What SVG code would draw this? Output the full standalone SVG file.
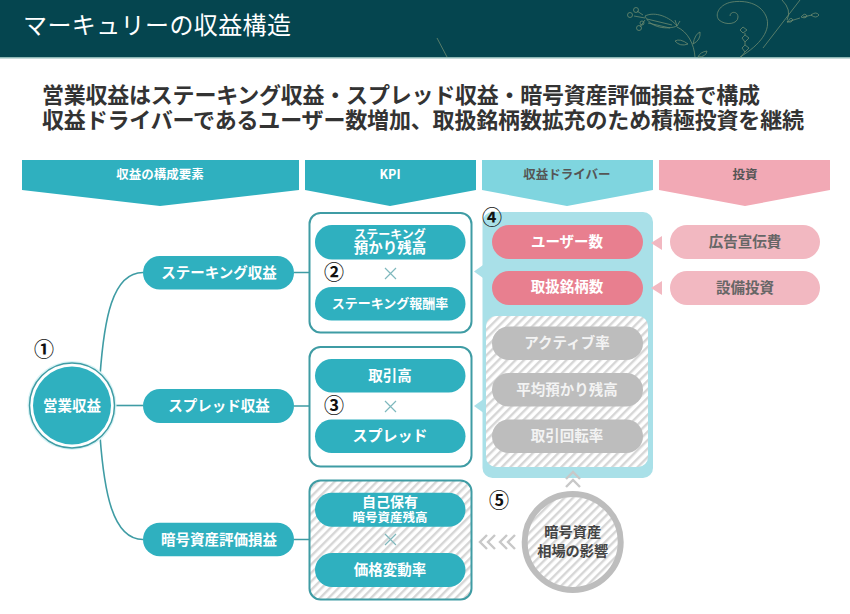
<svg xmlns="http://www.w3.org/2000/svg" width="850" height="614" viewBox="0 0 850 614">
<style>
text{font-family:"Noto Sans CJK JP","Noto Sans",sans-serif;text-anchor:middle;font-weight:700}
.w{fill:#fff;font-size:14.500px}
.g{fill:#f3f3f3;font-size:14.500px}
.h{font-size:12.500px}
.teal{fill:#2fb0bf}
.pink{fill:#e87f8f}
.lp{fill:#f2b8c1}
.gray{fill:#bdbdbd}
.box{fill:#fff;stroke:#3f9ca4;stroke-width:2}
.hbox{fill:url(#hatch);stroke:#3f9ca4;stroke-width:2}
.line{fill:none;stroke:#3f9ca4;stroke-width:1.6}
.x{stroke:#7fb8bd;stroke-width:1.2;fill:none}
.chev{fill:none;stroke:#c8c8c8;stroke-width:2.400}
.num{fill:#111;font-size:20px;font-weight:700}
.deco{fill:none;stroke:#6c8a70;stroke-width:.8}
</style>
<defs>
<pattern id="hatch" width="6" height="6" patternUnits="userSpaceOnUse" patternTransform="rotate(45)">
<rect width="6" height="6" fill="#fff"/><rect width="2.400" height="6" fill="#d6d6d6"/>
</pattern>
</defs>
<rect width="850" height="614" fill="#fff"/>
<g id="header">
<rect width="850" height="57" fill="#05454f"/>
<rect y="57" width="850" height="1.500" fill="#8fb8b6"/>
<g class="deco">
<path d="M437 38L447 57"/>
<path d="M645 16C655 11 670 17 677 26C668 30 650 28 645 16Z"/>
<path d="M647 19L672 25M648 23L670 28M677 26L675 20M677 26L680 21"/>
<path d="M645 18L634 16M645 20L640 27M643 15L637 11"/>
<circle cx="630" cy="15" r="2.500"/><circle cx="636" cy="10" r="2.500"/><circle cx="639" cy="28" r="2.500"/><circle cx="642" cy="23" r="2"/>
<path d="M677 27C688 32 694 44 695 57"/>
<path d="M693 44Q695 34 700 32Q701 40 693 44ZM688 44Q680 38 675 41Q680 47 688 44ZM698 57Q700 52 707 51Q706 57 698 57Z"/>
<path d="M740 57C760 45 772 30 766 16C760 3 745 0 732 2C720 4 714 14 719 20C726 26 738 24 738 17C738 11 730 11 730 16"/>
<path d="M763 48L800 0M782 0Q792 10 787 20"/>
<path d="M787 22L800 18M803 17L812 15"/>
<path d="M787 22Q791 16 793 20Q792 23 787 22ZM801 17Q805 12 807 16Q806 19 801 17ZM811 15Q816 11 819 15Q816 19 811 15Z"/>
<path d="M743 27L747 30L743 33L740 30ZM745 35L749 38L745 42L742 38ZM745 45L749 48L745 52L742 48Z"/>
<path d="M745 33V35M745 42V45M745 52L741 57"/>
</g>
<text x="157" y="34" fill="#fff" style="font-size:24px;font-weight:400" textLength="268">マーキュリーの収益構造</text>
</g>
<g id="headline">
<text x="401" y="103" fill="#333" style="font-size:22px" textLength="718">営業収益はステーキング収益・スプレッド収益・暗号資産評価損益で構成</text>
<text x="423" y="128" fill="#333" style="font-size:22px" textLength="762">収益ドライバーであるユーザー数増加、取扱銘柄数拡充のため積極投資を継続</text>
</g>
<g id="col-revenue"><polygon class="teal" points="22,160 299,160 299,190 160,206 22,190"/><text class="h" x="160" y="179" fill="#fff">収益の構成要素</text></g>
<g id="col-kpi"><polygon class="teal" points="305,160 476,160 476,190 390,206 305,190"/><text class="h" x="390" y="179" fill="#fff">KPI</text></g>
<g id="col-driver"><polygon fill="#7fd5df" points="482,160 653,160 653,190 567,206 482,190"/><text class="h" x="567" y="179" fill="#555">収益ドライバー</text></g>
<g id="col-invest"><polygon fill="#f2a9b5" points="659,160 830,160 830,190 745,206 659,190"/><text class="h" x="745" y="179" fill="#555">投資</text></g>
<g id="connectors">
<path class="line" d="M143 272.500C112 272.500 104 320 100 376"/>
<path class="line" d="M115 405.500H143"/>
<path class="line" d="M143 539.500C112 539.500 104 490 100 436"/>
<path class="line" d="M294 272.500H309M294 406H309M294 539.500H309"/>
<circle cx="100" cy="376" r="2" fill="#3f9ca4"/><circle cx="114" cy="405.500" r="2" fill="#3f9ca4"/><circle cx="100" cy="436" r="2" fill="#3f9ca4"/>
</g>
<g id="op-revenue">
<circle cx="72" cy="405.500" r="44.500" fill="#d8f3f6"/>
<circle cx="72" cy="405.500" r="42.500" fill="#fff" stroke="#3f9ca4" stroke-width="1.500"/>
<circle cx="72" cy="405.500" r="39" class="teal"/>
<text class="w" x="72" y="411">営業収益</text>
<text class="num" x="44" y="357">①</text>
</g>
<g id="rev-staking"><rect class="teal" x="143" y="256" width="151" height="33.500" rx="16.700"/><text class="w" x="219" y="278">ステーキング収益</text></g>
<g id="rev-spread"><rect class="teal" x="143" y="389" width="151" height="34" rx="17"/><text class="w" x="219" y="411">スプレッド収益</text></g>
<g id="rev-crypto"><rect class="teal" x="143" y="522.700" width="151" height="33.500" rx="16.700"/><text class="w" x="219" y="545">暗号資産評価損益</text></g>
<g id="kpi-box-1">
<rect class="box" x="309.500" y="213" width="162" height="119.500" rx="11"/>
<rect class="teal" x="315" y="225" width="150.500" height="34.500" rx="17"/>
<text class="w" x="390" y="238.500" style="font-size:12px">ステーキング</text><text class="w" x="390" y="253">預かり残高</text>
<path class="x" d="M385 268L396 279M396 268L385 279"/>
<rect class="teal" x="315" y="287" width="150.500" height="33.500" rx="16.700"/>
<text class="w" x="390" y="308" style="font-size:13px">ステーキング報酬率</text>
<text class="num" x="334" y="280">②</text>
</g>
<g id="kpi-box-2">
<rect class="box" x="309.500" y="347" width="162" height="119.500" rx="11"/>
<rect class="teal" x="315" y="359" width="150.500" height="33.500" rx="16.700"/>
<text class="w" x="390" y="381">取引高</text>
<path class="x" d="M385 401L396 412M396 401L385 412"/>
<rect class="teal" x="315" y="419.500" width="150.500" height="33.500" rx="16.700"/>
<text class="w" x="390" y="441" style="font-size:15px">スプレッド</text>
<text class="num" x="334" y="413">③</text>
</g>
<g id="kpi-box-3">
<rect class="hbox" x="309.500" y="480.500" width="162" height="119" rx="11"/>
<rect class="teal" x="315" y="492.700" width="150.500" height="34" rx="17"/>
<text class="w" x="390" y="507" style="font-size:14px">自己保有</text><text class="w" x="390" y="521.500" style="font-size:12.500px">暗号資産残高</text>
<path class="x" d="M385 534L396 545M396 534L385 545"/>
<rect class="teal" x="315" y="553" width="150.500" height="34" rx="17"/>
<text class="w" x="390" y="575">価格変動率</text>
</g>
<g id="driver-panel">
<rect x="482.500" y="212" width="170.500" height="266" rx="10" fill="#a9e0e8"/>
<polygon points="474,271.500 483,265 483,278" fill="#a9e0e8"/>
<polygon points="474,406 483,399.500 483,412.500" fill="#a9e0e8"/>
<text class="num" x="492" y="225">④</text>
</g>
<g id="driver-users"><rect class="pink" x="492" y="225" width="151" height="34" rx="17"/><text class="w" x="567" y="247">ユーザー数</text></g>
<g id="driver-brands"><rect class="pink" x="492" y="271" width="151" height="34" rx="17"/><text class="w" x="567" y="292">取扱銘柄数</text></g>
<g id="driver-hatched">
<rect x="486" y="316" width="162" height="151" rx="10" fill="url(#hatch)"/>
<rect class="gray" x="492" y="326.500" width="151" height="33.500" rx="16.700"/><text class="g" x="567" y="348">アクティブ率</text>
<rect class="gray" x="492" y="373" width="151" height="33.500" rx="16.700"/><text class="g" x="567" y="395">平均預かり残高</text>
<rect class="gray" x="492" y="419.500" width="151" height="33.500" rx="16.700"/><text class="g" x="567" y="441">取引回転率</text>
</g>
<g id="invest-ad"><polygon class="lp" points="651,243 662,236 662,250"/><rect class="lp" x="670" y="225" width="150" height="34" rx="17"/><text x="745" y="247" fill="#666" style="font-size:14.500px">広告宣伝費</text></g>
<g id="invest-equip"><polygon class="lp" points="651,288 662,281 662,295"/><rect class="lp" x="670" y="271" width="150" height="34" rx="17"/><text x="745" y="293" fill="#666" style="font-size:14.500px">設備投資</text></g>
<g id="market">
<circle cx="572.700" cy="542" r="48" fill="url(#hatch)" stroke="#bdbdbd" stroke-width="6"/>
<text x="572.700" y="537" fill="#444" style="font-size:14.200px">暗号資産</text>
<text x="572.700" y="556" fill="#444" style="font-size:14.200px">相場の影響</text>
<text class="num" x="499" y="508">⑤</text>
</g>
<g id="chevrons">
<path class="chev" d="M487 535L480 542L487 549M495 535L488 542L495 549M507 535L500 542L507 549M515 535L508 542L515 549"/>
<path class="chev" d="M566 479L573 472L580 479M566 487L573 480L580 487"/>
</g>
</svg>
